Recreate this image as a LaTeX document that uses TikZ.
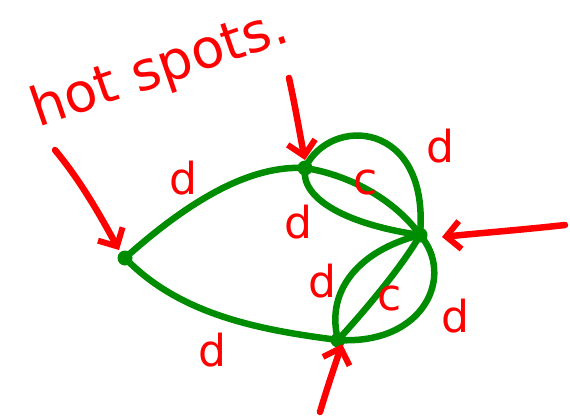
\documentclass[tikz,border=0pt]{standalone}
\usepackage{fontspec}
\setmainfont{DejaVu Sans}
\usetikzlibrary{arrows.meta}
\definecolor{pgreen}{RGB}{0,140,0}
\definecolor{pred}{RGB}{255,0,0}
\tikzset{
  vtx/.style={circle,fill=pgreen,inner sep=0pt,minimum size=15pt},
  edge/.style={draw=pgreen,line width=6.5pt,line cap=round,line join=round},
  hot/.style={draw=pred,line width=6.5pt,line cap=round,line join=round,-{Straight Barb[length=14pt,width=28pt,line width=6pt]}},
  lab/.style={text=pred,font=\fontsize{44}{44}\selectfont,inner sep=0pt}
}
\begin{document}
\begin{tikzpicture}[x=1pt,y=-1pt]
\useasboundingbox (0,0) rectangle (570,418);
% vertices
\node[vtx] (A) at (125,258) {};
\node[vtx] (B) at (305,168) {};
\node[vtx] (C) at (420,235) {};
\node[vtx] (D) at (338,340) {};
% edges
\draw[edge] (A.center) .. controls (190,200) and (250,165) .. (B.center);
\draw[edge] (A.center) .. controls (180,315) and (260,330) .. (D.center);
\draw[edge] (B.center) .. controls (350,175) and (395,200) .. (C.center);
\draw[edge] (B.center) .. controls (300,200) and (350,225) .. (C.center);
\draw[edge] (B.center) .. controls (330,115) and (430,120) .. (C.center);
\draw[edge] (C.center) .. controls (455,275) and (425,345) .. (D.center);
\draw[edge] (C.center) .. controls (360,250) and (325,290) .. (D.center);
\draw[edge] (C.center) .. controls (405,262) and (370,305) .. (D.center);
% labels
\node[lab] (l1) at (183,178) {d};
\node[lab] (l2) at (212,350) {d};
\node[lab] (l3) at (366,182) {c};
\node[lab] (l4) at (298,222) {d};
\node[lab] (l5) at (440,146) {d};
\node[lab] (l6) at (322,281) {d};
\node[lab] (l7) at (390,298) {c};
\node[lab] (l8) at (455,316) {d};
% hot spot arrows
\coordinate (h1) at (55,150);
\coordinate (h2) at (289,78);
\coordinate (h3) at (565,225);
\coordinate (h4) at (320,412);
\draw[hot] (h1) .. controls (80,180) and (100,215) .. ([shift={(-6,-8)}]A.center);
\draw[hot] (h2) .. controls (296,110) and (300,135) .. ([shift={(0,-8)}]B.center);
\draw[hot] (h3) .. controls (520,230) and (480,233) .. ([shift={(22,2)}]C.center);
\draw[hot] (h4) .. controls (328,385) and (335,365) .. ([shift={(4,4)}]D.center);
% title
\node[text=pred,font=\fontsize{54}{54}\selectfont,rotate=19,inner sep=0pt] (t) at (160,70) {hot spots.};
\end{tikzpicture}
\end{document}
